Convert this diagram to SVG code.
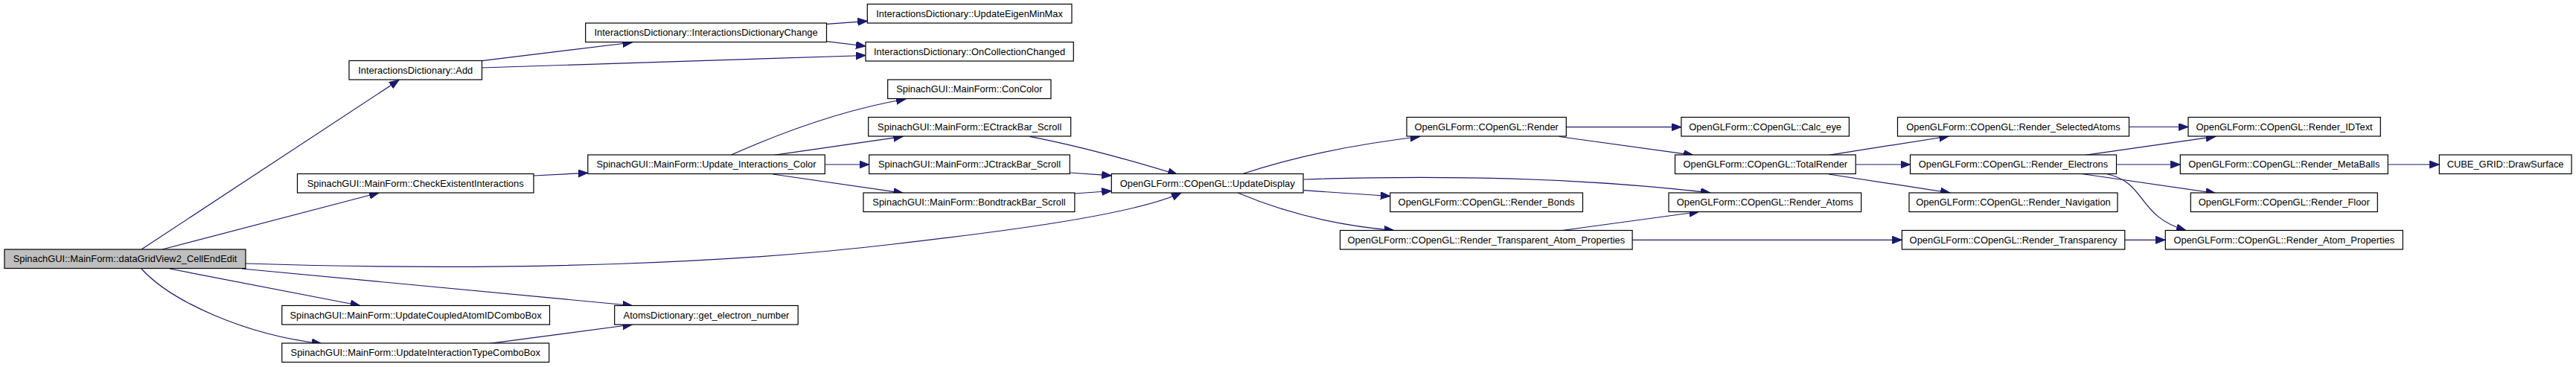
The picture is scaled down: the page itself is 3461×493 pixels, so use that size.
<svg xmlns="http://www.w3.org/2000/svg" width="3461" height="493" viewBox="0 0 3461 493">
<style>
.n rect{fill:#ffffff;stroke:#000000;stroke-width:1.2}
.n.main rect{fill:#bfbfbf}
.n text{font-family:"Liberation Sans",Arial,sans-serif;font-size:12.9px;fill:#000000;text-anchor:middle}
.e path{fill:none;stroke:#191970;stroke-width:1.2;marker-end:url(#arr)}
</style>
<defs>
<marker id="arr" markerUnits="userSpaceOnUse" markerWidth="14" markerHeight="11" refX="13" refY="5" orient="auto">
<path d="M0,0 L13,5 L0,10 z" fill="#191970" stroke="#191970" stroke-width="1"/>
</marker>
</defs>
<rect width="3461" height="493" fill="#ffffff"/>
<g id="edges" class="e">
<path d="M190,335 L536,107.5"/>
<path d="M218,335 L509,259"/>
<path d="M330,354 C700,366 1000,352 1200,328 C1330,313 1520,290 1587,259"/>
<path d="M325,361 L849.5,410.5"/>
<path d="M228,361 L483.7,410.5"/>
<path d="M190,361 C230,405 330,450 432,461.5"/>
<path d="M647.5,81.7 L849.5,57"/>
<path d="M647.5,91 L1163,74.5"/>
<path d="M1110.5,32.3 L1165.3,28.3"/>
<path d="M1110.5,55.7 L1163,62"/>
<path d="M717,236 L789.8,232.3"/>
<path d="M982,208.3 C1050,178 1130,148 1217,133"/>
<path d="M1040,208.3 L1213.3,183.3"/>
<path d="M1108.3,221 L1167.7,221"/>
<path d="M1038.3,234 L1213.3,259.3"/>
<path d="M1383.3,183.3 Q1470,200 1582,234.5"/>
<path d="M1437,232 L1493.3,235.8"/>
<path d="M1444,260 L1493.3,256.5"/>
<path d="M658,461.3 L849.5,436"/>
<path d="M1670.4,233.3 Q1770,200 1907.6,183.5"/>
<path d="M1751.5,241 C1900,236 2100,236 2298,259"/>
<path d="M1751.5,255.7 L1867.8,263.5"/>
<path d="M1663,259 Q1760,300 1873,309.5"/>
<path d="M2104.3,170.7 L2259,170.7"/>
<path d="M2095,183.5 L2275,208.3"/>
<path d="M2099,309.5 L2282.7,284.5"/>
<path d="M2193,322.3 L2555.4,322.3"/>
<path d="M2457,208.3 L2618.4,183"/>
<path d="M2493.2,221 L2566.5,221"/>
<path d="M2457,234 L2620,259"/>
<path d="M2860.5,170.5 L2940,170.5"/>
<path d="M2801.7,208.3 L2976.7,183.3"/>
<path d="M2843.4,221 L2929.3,221"/>
<path d="M2796.7,233.5 L2976.7,259.5"/>
<path d="M2830,233.5 C2885,245 2870,290 2937,309.5"/>
<path d="M3208.3,221 L3277.3,221"/>
<path d="M2855,322.3 L2909.3,322.3"/>
</g>
<g id="n_main" class="n main"><rect x="6" y="335" width="324" height="25.5"/><text x="168" y="352">SpinachGUI::MainForm::dataGridView2_CellEndEdit</text></g>
<g id="n_add" class="n"><rect x="469" y="81.5" width="178.5" height="25.5"/><text x="558.2" y="98.5">InteractionsDictionary::Add</text></g>
<g id="n_idchange" class="n"><rect x="786.7" y="31" width="323.8" height="25.5"/><text x="948.6" y="48">InteractionsDictionary::InteractionsDictionaryChange</text></g>
<g id="n_eigen" class="n"><rect x="1165.3" y="5.5" width="274.7" height="25.5"/><text x="1302.6" y="22.5">InteractionsDictionary::UpdateEigenMinMax</text></g>
<g id="n_oncoll" class="n"><rect x="1163" y="56.5" width="279.3" height="25.5"/><text x="1302.6" y="73.5">InteractionsDictionary::OnCollectionChanged</text></g>
<g id="n_check" class="n"><rect x="399.5" y="233.5" width="317.5" height="25.5"/><text x="558.2" y="250.5">SpinachGUI::MainForm::CheckExistentInteractions</text></g>
<g id="n_uic" class="n"><rect x="789.8" y="208" width="318.5" height="25.5"/><text x="949" y="225">SpinachGUI::MainForm::Update_Interactions_Color</text></g>
<g id="n_concolor" class="n"><rect x="1192.7" y="107" width="219.3" height="25.5"/><text x="1302.3" y="124">SpinachGUI::MainForm::ConColor</text></g>
<g id="n_ectrack" class="n"><rect x="1166.7" y="157.5" width="272" height="25.5"/><text x="1302.7" y="174.5">SpinachGUI::MainForm::ECtrackBar_Scroll</text></g>
<g id="n_jctrack" class="n"><rect x="1167.7" y="208" width="269.6" height="25.5"/><text x="1302.5" y="225">SpinachGUI::MainForm::JCtrackBar_Scroll</text></g>
<g id="n_bondtrack" class="n"><rect x="1160" y="259" width="283.9" height="25.5"/><text x="1302" y="276">SpinachGUI::MainForm::BondtrackBar_Scroll</text></g>
<g id="n_updatedisplay" class="n"><rect x="1493.3" y="233.5" width="257.7" height="25.5"/><text x="1622.2" y="250.5">OpenGLForm::COpenGL::UpdateDisplay</text></g>
<g id="n_coupled" class="n"><rect x="378.8" y="410.5" width="359.7" height="25.5"/><text x="558.6" y="427.5">SpinachGUI::MainForm::UpdateCoupledAtomIDComboBox</text></g>
<g id="n_electron" class="n"><rect x="825.7" y="410.5" width="246.5" height="25.5"/><text x="949" y="427.5">AtomsDictionary::get_electron_number</text></g>
<g id="n_inttype" class="n"><rect x="378.8" y="461" width="358.9" height="25.5"/><text x="558.2" y="478">SpinachGUI::MainForm::UpdateInteractionTypeComboBox</text></g>
<g id="n_render" class="n"><rect x="1890" y="157.5" width="214.3" height="25.5"/><text x="1997.2" y="174.5">OpenGLForm::COpenGL::Render</text></g>
<g id="n_bonds" class="n"><rect x="1867.8" y="259" width="258.7" height="25.5"/><text x="1997.2" y="276">OpenGLForm::COpenGL::Render_Bonds</text></g>
<g id="n_rtap" class="n"><rect x="1800.5" y="309.5" width="392.6" height="25.5"/><text x="1996.8" y="326.5">OpenGLForm::COpenGL::Render_Transparent_Atom_Properties</text></g>
<g id="n_calceye" class="n"><rect x="2258.9" y="157.5" width="225.5" height="25.5"/><text x="2371.6" y="174.5">OpenGLForm::COpenGL::Calc_eye</text></g>
<g id="n_totalrender" class="n"><rect x="2250.5" y="208" width="242.7" height="25.5"/><text x="2371.8" y="225">OpenGLForm::COpenGL::TotalRender</text></g>
<g id="n_atoms" class="n"><rect x="2242" y="259" width="258.6" height="25.5"/><text x="2371.3" y="276">OpenGLForm::COpenGL::Render_Atoms</text></g>
<g id="n_selected" class="n"><rect x="2549.5" y="157.5" width="311" height="25.5"/><text x="2705" y="174.5">OpenGLForm::COpenGL::Render_SelectedAtoms</text></g>
<g id="n_electrons" class="n"><rect x="2566.5" y="208" width="277" height="25.5"/><text x="2705" y="225">OpenGLForm::COpenGL::Render_Electrons</text></g>
<g id="n_navigation" class="n"><rect x="2565" y="259" width="280" height="25.5"/><text x="2705" y="276">OpenGLForm::COpenGL::Render_Navigation</text></g>
<g id="n_transparency" class="n"><rect x="2555.4" y="309.5" width="299.4" height="25.5"/><text x="2705.1" y="326.5">OpenGLForm::COpenGL::Render_Transparency</text></g>
<g id="n_idtext" class="n"><rect x="2940" y="157.5" width="258.3" height="25.5"/><text x="3069.1" y="174.5">OpenGLForm::COpenGL::Render_IDText</text></g>
<g id="n_metaballs" class="n"><rect x="2929.3" y="208" width="279" height="25.5"/><text x="3068.8" y="225">OpenGLForm::COpenGL::Render_MetaBalls</text></g>
<g id="n_floor" class="n"><rect x="2943.3" y="259" width="251" height="25.5"/><text x="3068.8" y="276">OpenGLForm::COpenGL::Render_Floor</text></g>
<g id="n_atomprops" class="n"><rect x="2909.3" y="309.5" width="319" height="25.5"/><text x="3068.8" y="326.5">OpenGLForm::COpenGL::Render_Atom_Properties</text></g>
<g id="n_drawsurface" class="n"><rect x="3277.3" y="208" width="177.7" height="25.5"/><text x="3366.1" y="225">CUBE_GRID::DrawSurface</text></g>
</svg>
